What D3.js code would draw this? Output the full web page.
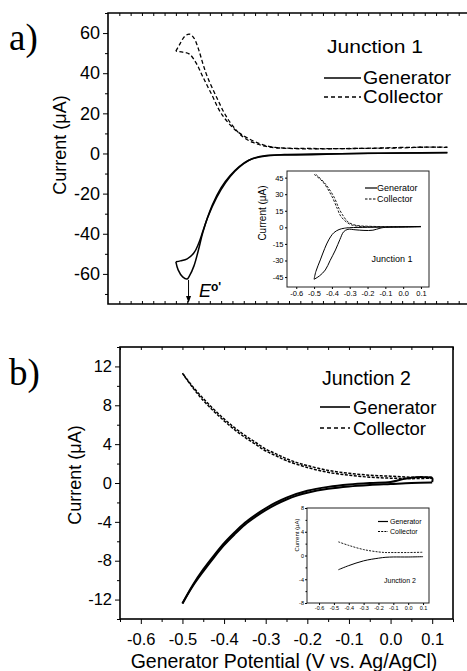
<!DOCTYPE html>
<html lang="en">
<head>
<meta charset="utf-8">
<title>Generator / Collector voltammograms, Junction 1 and 2</title>
<script src="https://d3js.org/d3.v7.min.js"></script>
<style>
  body { margin: 0; background: #fff; }
  svg { display: block; }
  .tick line { stroke: #000; }
</style>
</head>
<body>
<div id="chart"></div>
<script>
// ---- data, potential (V vs. Ag/AgCl) vs current (uA) ----
// panel a, main plot (Junction 1)
var genA_fwd = [[0.1,0.5],[0,0.3],[-0.1,0],[-0.2,-0.3],[-0.26,-0.5],[-0.29,-1],[-0.32,-2],[-0.34,-3.5],[-0.36,-6.5],[-0.38,-11],[-0.4,-17],[-0.42,-26],[-0.44,-39],[-0.45,-48],[-0.46,-56],[-0.47,-61],[-0.475,-62.5],[-0.485,-61.5],[-0.495,-58],[-0.5,-54]];
var genA_rev = [[-0.5,-54],[-0.49,-53.5],[-0.475,-52.5],[-0.46,-49.5],[-0.45,-45],[-0.44,-38.5],[-0.43,-32],[-0.41,-22],[-0.39,-14.5],[-0.37,-9],[-0.35,-5],[-0.33,-2.5],[-0.3,-1],[-0.25,-0.8],[-0.2,-0.6],[-0.1,0],[0,0.2],[0.1,0.4]];
var colA_fwd = [[0.1,3],[0.05,3.2],[0,2.8],[-0.1,2.5],[-0.2,2.5],[-0.28,3],[-0.31,4.5],[-0.34,7.5],[-0.37,12],[-0.4,20],[-0.42,29],[-0.44,38],[-0.455,45],[-0.47,49.5],[-0.485,50.5],[-0.5,51]];
var colA_rev = [[-0.5,51],[-0.49,55],[-0.48,58.5],[-0.47,59.5],[-0.46,57.5],[-0.45,52],[-0.44,44.5],[-0.43,38],[-0.41,28],[-0.39,19],[-0.37,12.5],[-0.35,8],[-0.33,5.5],[-0.3,3.5],[-0.25,2.5],[-0.1,2.5],[0,3],[0.1,3.2]];
var formalPotentialA = -0.472;

// panel a, inset
var genIA_1 = [[-0.5,-47],[-0.49,-40],[-0.465,-29.5],[-0.44,-19],[-0.418,-11.4],[-0.39,-5],[-0.36,-2],[-0.33,-0.8],[-0.3,-0.3],[-0.2,0],[-0.1,0.2],[0,0.4],[0.1,0.6]];
var genIA_2 = [[-0.5,-47],[-0.47,-44],[-0.437,-38.6],[-0.41,-30],[-0.38,-20.5],[-0.355,-11],[-0.334,-4],[-0.31,-1.8],[-0.27,-2.2],[-0.22,-2.8],[-0.17,-2.6],[-0.13,-0.8],[-0.1,0],[0,0.3],[0.1,0.6]];
var colIA_1 = [[-0.5,48],[-0.45,41],[-0.4,28],[-0.37,17],[-0.35,10],[-0.32,5],[-0.29,2.2],[-0.25,1],[-0.2,0.6],[-0.1,0.5],[0,0.6],[0.1,0.8]];
var colIA_2 = [[-0.49,48],[-0.44,40],[-0.39,28],[-0.36,17],[-0.335,10],[-0.31,5],[-0.28,2.5],[-0.24,1.3],[-0.2,1],[-0.1,0.6],[0,0.6],[0.1,0.8]];

// panel b, main plot (Junction 2)
var genB_fwd = [[0.1,0.05],[0.05,0],[0,-0.1],[-0.05,-0.2],[-0.1,-0.35],[-0.15,-0.6],[-0.2,-1.0],[-0.225,-1.3],[-0.25,-1.7],[-0.275,-2.2],[-0.3,-2.8],[-0.325,-3.5],[-0.35,-4.3],[-0.375,-5.3],[-0.4,-6.4],[-0.425,-7.7],[-0.45,-9.1],[-0.475,-10.6],[-0.5,-12.4]];
var genB_rev = [[-0.5,-12.4],[-0.475,-10.5],[-0.45,-8.9],[-0.425,-7.5],[-0.4,-6.2],[-0.375,-5.1],[-0.35,-4.1],[-0.325,-3.3],[-0.3,-2.6],[-0.275,-2.0],[-0.25,-1.5],[-0.2,-0.8],[-0.15,-0.4],[-0.1,-0.15],[-0.05,0],[0,0.1],[0.03,0.4],[0.05,0.55],[0.08,0.6],[0.1,0.5],[0.1,0.1]];
var colB_fwd = [[0.1,0.6],[0.05,0.6],[0,0.7],[-0.05,0.8],[-0.1,1.0],[-0.15,1.3],[-0.2,1.8],[-0.225,2.1],[-0.25,2.5],[-0.275,3.0],[-0.3,3.5],[-0.325,4.2],[-0.35,4.9],[-0.375,5.7],[-0.4,6.6],[-0.425,7.6],[-0.45,8.7],[-0.475,9.9],[-0.5,11.3]];
var colB_rev = [[-0.5,11.3],[-0.475,9.8],[-0.45,8.5],[-0.425,7.4],[-0.4,6.4],[-0.375,5.5],[-0.35,4.7],[-0.325,4.0],[-0.3,3.3],[-0.275,2.8],[-0.25,2.3],[-0.2,1.6],[-0.15,1.1],[-0.1,0.8],[-0.05,0.6],[0,0.5],[0.05,0.45],[0.1,0.5]];

// panel b, inset
var genIB = [[-0.47,-2.4],[-0.4,-1.7],[-0.3,-0.9],[-0.2,-0.45],[-0.15,-0.3],[-0.1,-0.25],[0,-0.25],[0.1,-0.2]];
var colIB = [[-0.47,2.3],[-0.4,1.7],[-0.3,1.0],[-0.2,0.6],[-0.15,0.5],[-0.1,0.5],[0,0.5],[0.1,0.55]];

// ---- tick labels ----
var yTicksA = [-60,-40,-20,0,20,40,60];
var yMinorA = [-70,-50,-30,-10,10,30,50,70];
var yTicksB = [-12,-8,-4,0,4,8,12];
var yMinorB = [-14,-10,-6,-2,2,6,10,14];
var xTicksB = [-0.6,-0.5,-0.4,-0.3,-0.2,-0.1,0.0,0.1];
var xMinorB = [-0.65,-0.55,-0.45,-0.35,-0.25,-0.15,-0.05,0.05,0.15];
var yTicksIA = [-45,-30,-15,0,15,30,45];
var yTicksIB = [-8,-4,0,4,8];
var yMinorIB = [-6,-2,2,6];
var xTicksIn = [-0.6,-0.5,-0.4,-0.3,-0.2,-0.1,0.0,0.1];
var seriesNames = ["Generator", "Collector"];

var W = 467, H = 671;
var FONT = "'Liberation Sans', Arial, Helvetica, sans-serif";
var SERIF = "'Liberation Serif', 'Times New Roman', serif";

var svg = d3.select("#chart").append("svg")
    .attr("width", W)
    .attr("height", H);

function fmtInt(d) { return String(d); }
function fmtV(d) { return d.toFixed(1); }

// an axis with the domain line removed (frames are drawn separately)
function addAxis(axis, scale, tx, ty, values, size, fmt, fontSize, pad) {
  var a = axis(scale).tickValues(values).tickSize(size).tickPadding(pad || 3)
      .tickFormat(fmt || "");
  var g = svg.append("g")
      .attr("transform", "translate(" + tx + "," + ty + ")")
      .call(a);
  g.select(".domain").remove();
  g.selectAll(".tick line").attr("stroke", "#000").attr("stroke-width", 1);
  g.selectAll("text")
      .attr("font-size", fontSize || 10)
      .attr("font-family", FONT)
      .attr("fill", "#000");
  return g;
}

function plotLine(data, x, y, width, dash) {
  svg.append("path").datum(data)
    .attr("d", d3.line()
        .x(function(d) { return x(d[0]); })
        .y(function(d) { return y(d[1]); })
        .curve(d3.curveCatmullRom.alpha(0.5)))
    .attr("fill", "none")
    .attr("stroke", "#000")
    .attr("stroke-width", width)
    .attr("stroke-linejoin", "round")
    .attr("stroke-dasharray", dash || null);
}

function txt(s, x, y, size, anchor, family) {
  return svg.append("text")
    .attr("x", x).attr("y", y)
    .attr("font-size", size)
    .attr("font-family", family || FONT)
    .attr("text-anchor", anchor || "start")
    .attr("fill", "#000")
    .text(s);
}

function vtxt(s, x, y, size) {
  return svg.append("text")
    .attr("transform", "translate(" + x + "," + y + ") rotate(-90)")
    .attr("font-size", size)
    .attr("font-family", FONT)
    .attr("text-anchor", "middle")
    .attr("fill", "#000")
    .text(s);
}

// legend rows; textW (optional) stretches the label to the width seen in the figure
function legend(x0, x1, x2, yy, size, dashes, lineW, textW) {
  seriesNames.forEach(function(name, i) {
    var y = yy[i];
    svg.append("line")
      .attr("x1", x0).attr("x2", x1).attr("y1", y).attr("y2", y)
      .attr("stroke", "#000").attr("stroke-width", lineW)
      .attr("stroke-dasharray", dashes[i]);
    var t = txt(name, x2, y + size * 0.36, size);
    if (textW) t.attr("textLength", textW[i]).attr("lengthAdjust", "spacingAndGlyphs");
  });
}

// ================= panel a =================
var xA = d3.scaleLinear().domain([-0.65, 0.15]).range([108, 470]);
var yA = d3.scaleLinear().domain([-75, 70]).range([304, 13]);

addAxis(d3.axisLeft, yA, 108, 0, yMinorA, 3, null, 10);
addAxis(d3.axisLeft, yA, 108, 0, yTicksA, 5, fmtInt, 18, 3);
addAxis(d3.axisBottom, xA, 0, 304, d3.range(-0.625, 0.15, 0.025), -3, null, 10);
addAxis(d3.axisTop, xA, 0, 13, d3.range(-0.625, 0.15, 0.025), -3, null, 10);

svg.append("path")
  .attr("d", "M470,13H108V304H470")
  .attr("fill", "none").attr("stroke", "#000").attr("stroke-width", 1.6);

plotLine(colA_fwd, xA, yA, 1.3, "4,2.5");
plotLine(colA_rev, xA, yA, 1.3, "4,2.5");
plotLine(genA_fwd, xA, yA, 1.5);
plotLine(genA_rev, xA, yA, 1.5);

// E°' arrow
var ex = xA(formalPotentialA);
svg.append("line")
  .attr("x1", ex).attr("x2", ex)
  .attr("y1", yA(-63)).attr("y2", 297)
  .attr("stroke", "#000").attr("stroke-width", 1);
svg.append("path")
  .attr("d", "M" + (ex - 2.5) + ",296L" + (ex + 2.5) + ",296L" + ex + ",303Z")
  .attr("fill", "#000");
var eo = txt("", 199, 297, 18);
eo.append("tspan").attr("font-style", "italic").text("E");
eo.append("tspan").attr("dy", -6).attr("font-size", 12).attr("font-weight", "bold").text("o'");

vtxt("Current (\u03bcA)", 66, 145, 18);
txt("a)", 9, 50, 37, "start", SERIF);

txt("Junction 1", 327, 53, 19)
  .attr("textLength", 96).attr("lengthAdjust", "spacingAndGlyphs");
legend(324, 361, 363, [78, 97], 17.5, [null, "4,3"], 1.6, [88, 80]);

// inset a
var xIA = d3.scaleLinear().domain([-0.652, 0.145]).range([287, 429]);
var yIA = d3.scaleLinear().domain([-54, 51]).range([287, 171]);

svg.append("rect")
  .attr("x", 287).attr("y", 171).attr("width", 142).attr("height", 116)
  .attr("fill", "#fff").attr("stroke", "#222").attr("stroke-width", 1);
addAxis(d3.axisLeft, yIA, 287, 0, yTicksIA, 2, fmtInt, 7.5, 1.5);
addAxis(d3.axisBottom, xIA, 0, 287, xTicksIn, 2, fmtV, 7.5, 1.5);

plotLine(colIA_1, xIA, yIA, 0.9, "2.5,1.5");
plotLine(colIA_2, xIA, yIA, 0.9, "2.5,1.5");
plotLine(genIA_1, xIA, yIA, 1);
plotLine(genIA_2, xIA, yIA, 1);

vtxt("Current (\u03bcA)", 266, 213, 10);
txt("Junction 1", 392, 262, 9, "middle");
legend(365, 377, 377, [188, 199], 9, [null, "2.5,1.5"], 1.2);

// ================= panel b =================
var xB = d3.scaleLinear().domain([-0.65, 0.15]).range([120, 453]);
var yB = d3.scaleLinear().domain([-14, 14]).range([619, 347]);

addAxis(d3.axisLeft, yB, 120, 0, yMinorB, 3, null, 10);
addAxis(d3.axisLeft, yB, 120, 0, yTicksB, 5, fmtInt, 16.5, 3);
addAxis(d3.axisBottom, xB, 0, 619, xMinorB, 3, null, 10);
addAxis(d3.axisBottom, xB, 0, 619, xTicksB, 5, fmtV, 16.5, 9);
addAxis(d3.axisTop, xB, 0, 347, xMinorB.concat(xTicksB), -3, null, 10);

svg.append("rect")
  .attr("x", 120).attr("y", 347).attr("width", 333).attr("height", 272)
  .attr("fill", "none").attr("stroke", "#000").attr("stroke-width", 1.6);

plotLine(colB_fwd, xB, yB, 1.5, "3,1.5");
plotLine(colB_rev, xB, yB, 1.5, "3,1.5");
plotLine(genB_fwd, xB, yB, 2);
plotLine(genB_rev, xB, yB, 2);

vtxt("Current (\u03bcA)", 81, 475, 18);
txt("Generator Potential (V vs. Ag/AgCl)", 284, 668, 19.5, "middle");
txt("b)", 9, 385, 37, "start", SERIF);

txt("Junction 2", 322, 385, 19.5);
legend(320, 350, 353, [407, 428], 18.5, [null, "4,3"], 1.6);

// inset b
var xIB = d3.scaleLinear().domain([-0.681, 0.14]).range([307, 429]);
var yIB = d3.scaleLinear().domain([-8, 8]).range([603, 508]);

svg.append("rect")
  .attr("x", 307).attr("y", 508).attr("width", 122).attr("height", 95)
  .attr("fill", "#fff").attr("stroke", "#222").attr("stroke-width", 1);
addAxis(d3.axisLeft, yIB, 307, 0, yMinorIB, 1.5, null, 6);
addAxis(d3.axisLeft, yIB, 307, 0, yTicksIB, 2, fmtInt, 5.5, 1);
addAxis(d3.axisBottom, xIB, 0, 603, xTicksIn, 2, fmtV, 5.5, 1.5);

plotLine(colIB, xIB, yIB, 0.9, "2,1.2");
plotLine(genIB, xIB, yIB, 1);

vtxt("Current (\u03bcA)", 299, 535, 6);
txt("Junction 2", 400, 583, 7, "middle");
legend(378, 388, 390, [521.5, 531.5], 7, [null, "2,1.2"], 1.2);
</script>
</body>
</html>
